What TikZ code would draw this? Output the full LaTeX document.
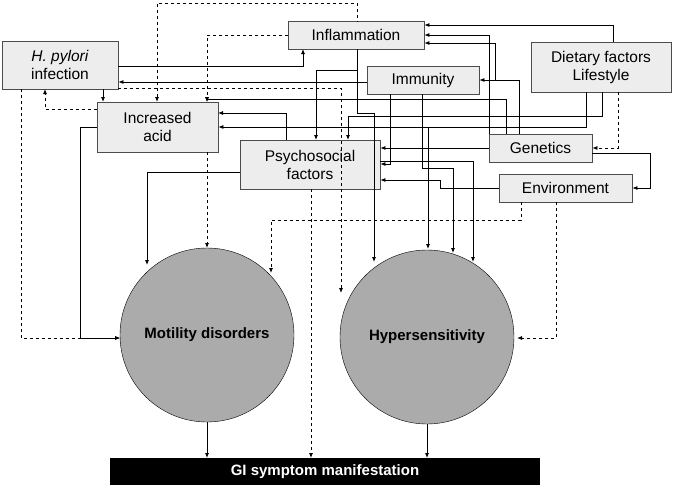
\documentclass[tikz,border=0pt]{standalone}
\usepackage{fontspec}
\setmainfont{Liberation Sans}
\usetikzlibrary{arrows.meta}
\begin{document}
\begin{tikzpicture}[x=1pt,y=-1pt,
  box/.style={draw=black!70,fill=black!7,line width=0.8pt,inner sep=0pt,font=\fontsize{15.5}{18}\selectfont,align=center},
  circ/.style={circle,draw,fill=black!33,minimum size=174pt,inner sep=0pt,font=\bfseries\fontsize{15}{18}\selectfont},
  ar/.style={-{Latex[length=5pt,width=4pt]},line width=0.8pt},
  da/.style={ar,dashed}]
\useasboundingbox (0,0) rectangle (675,491);
\node[box,minimum width=116pt,minimum height=48pt] (hp) at (60,65) {\textit{H. pylori}\\infection};
\node[box,minimum width=136pt,minimum height=28pt] (inf) at (356,35) {Inflammation};
\node[box,minimum width=112pt,minimum height=28pt] (imm) at (423,80) {Immunity};
\node[box,minimum width=140pt,minimum height=50pt] (diet) at (601,67) {Dietary factors\\Lifestyle};
\node[box,minimum width=103pt,minimum height=28pt] (gen) at (540.5,148) {Genetics};
\node[box,minimum width=133pt,minimum height=28pt] (env) at (565.5,188) {Environment};
\node[box,minimum width=121pt,minimum height=50pt] (acid) at (157.5,127) {Increased\\acid};
\node[box,minimum width=140pt,minimum height=49pt] (psy) at (310,164.5) {Psychosocial\\factors};
\node[circ] (mot) at (207,335) {Motility disorders};
\node[circ] (hyp) at (427,337) {Hypersensitivity};
\node[fill=black,text=white,minimum width=430pt,minimum height=27pt,inner sep=0pt,font=\bfseries\fontsize{15}{18}\selectfont] (gi) at (325,471.5) {GI symptom manifestation};

% H. pylori links
\draw[ar] (hp.east |- 0,66) -- (303,66) -- (303,49);
\draw[ar,{Latex[length=5pt,width=4pt]}-] (hp.east |- 0,82) -- (imm.west |- 0,82);
\draw[da] (hp.east |- 0,88) -- (341,88) -- (341,293);
\draw[ar] (103,89) -- (103,102);
\draw[da] (acid.west |- 0,109) -- (45,109) -- (45,89);
\draw[da] (21,89) -- (21,338) -- (120,338);
\draw[ar] (acid.west |- 0,127) -- (80,127) -- (80,338) -- (120,338);
\draw[da,{Latex[length=5pt,width=4pt]}-] (157,102) -- (157,3) -- (357,3) -- (357,21);
\draw[da] (inf.west) -- (207,35) -- (207,102);
\draw[da] (207,152) -- (207,248);
% Inflammation outputs
\draw[ar] (357,49) -- (357,70) -- (316,70) -- (316,140);
\draw[ar] (357,70) -- (357,113) -- (374,113) -- (374,262);
% Psychosocial
\draw[ar] (286,140) -- (286,113) -- (218,113);
\draw[ar] (psy.west |- 0,172) -- (147,172) -- (147,265);
\draw[da] (311,189) -- (311,458);
\draw[ar] (psy.east |- 0,161) -- (473,161) -- (473,262);
% Genetics
\draw[ar] (506,134) -- (506,99) -- (207,99) -- (207,102);
\draw[ar] (gen.west |- 0,148) -- (psy.east |- 0,148);
\draw[ar] (489,134) -- (489,35) -- (inf.east |- 0,35);
\draw[ar] (519,134) -- (519,80) -- (imm.east |- 0,80);
\draw[ar] (495,80) -- (495,43) -- (inf.east |- 0,43);
\draw[ar] (gen.east |- 0,153) -- (650,153) -- (650,188) -- (env.east |- 0,188);
% Immunity
\draw[ar] (390,94) -- (390,164) -- (psy.east |- 0,164);
\draw[ar] (422,94) -- (422,168) -- (453,168) -- (453,253);
% Environment
\draw[ar] (env.west |- 0,188) -- (440,188) -- (440,180) -- (psy.east |- 0,180);
\draw[da] (521,202) -- (521,220) -- (271,220) -- (271,273);
\draw[da] (556,202) -- (556,338) -- (517,338);
% Dietary
\draw[ar] (613,42) -- (613,25) -- (inf.east |- 0,25);
\draw[ar] (602,92) -- (602,116) -- (348,116) -- (348,140);
\draw[ar] (586,92) -- (586,127) -- (acid.east |- 0,127);
\draw[ar] (428,127) -- (428,249);
\draw[da] (618,92) -- (618,148) -- (gen.east |- 0,148);
% outputs
\draw[ar] (mot.south) -- (207,458);
\draw[ar] (hyp.south) -- (427,458);
\end{tikzpicture}
\end{document}
